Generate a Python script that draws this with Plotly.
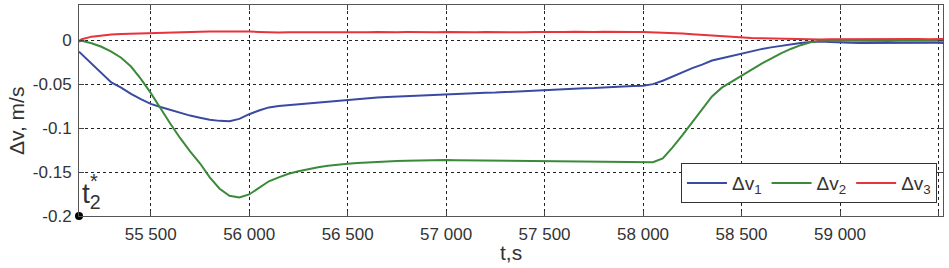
import plotly.graph_objects as go

# ---------------- data ----------------
T = [55136, 55150, 55200, 55250, 55300, 55350, 55400, 55450, 55500, 55550,
     55600, 55650, 55700, 55750, 55800, 55850, 55900, 55950, 56000, 56050,
     56100, 56150, 56200, 56250, 56300, 56350, 56400, 56450, 56500, 56550,
     56600, 56650, 56700, 56750, 56800, 56850, 56900, 56950, 57000, 57050,
     57100, 57150, 57200, 57250, 57300, 57350, 57400, 57450, 57500, 57550,
     57600, 57650, 57700, 57750, 57800, 57850, 57900, 57950, 58000, 58050,
     58100, 58150, 58200, 58250, 58300, 58350, 58400, 58450, 58500, 58550,
     58600, 58650, 58700, 58750, 58800, 58850, 58900, 58950, 59000, 59050,
     59100, 59150, 59200, 59250, 59300, 59350, 59400, 59450, 59500, 59523]

DV1 = [-0.0130, -0.0160, -0.0270, -0.0380, -0.0480, -0.0540, -0.0610, -0.0670, -0.0725, -0.0760,
       -0.0795, -0.0828, -0.0858, -0.0882, -0.0905, -0.0918, -0.0922, -0.0895, -0.0842, -0.0800,
       -0.0765, -0.0748, -0.0738, -0.0728, -0.0718, -0.0712, -0.0702, -0.0695, -0.0678, -0.0672,
       -0.0665, -0.0652, -0.0647, -0.0642, -0.0632, -0.0628, -0.0624, -0.0618, -0.0612, -0.0608,
       -0.0610, -0.0602, -0.0598, -0.0596, -0.0590, -0.0586, -0.0580, -0.0575, -0.0565, -0.0562,
       -0.0558, -0.0553, -0.0548, -0.0545, -0.0538, -0.0530, -0.0528, -0.0522, -0.0518, -0.0500,
       -0.0462, -0.0412, -0.0362, -0.0318, -0.0278, -0.0232, -0.0205, -0.0178, -0.0152, -0.0125,
       -0.0102, -0.0082, -0.0063, -0.0046, -0.0032, -0.0020, -0.0015, -0.0022, -0.0028, -0.0030,
       -0.0031, -0.0030, -0.0031, -0.0030, -0.0032, -0.0031, -0.0030, -0.0031, -0.0030, -0.0031]

DV2 = [-0.0015, -0.0008, -0.0035, -0.0075, -0.0130, -0.0200, -0.0300, -0.0440, -0.0600, -0.0780,
       -0.0950, -0.1115, -0.1265, -0.1400, -0.1560, -0.1690, -0.1770, -0.1790, -0.1755, -0.1680,
       -0.1605, -0.1560, -0.1520, -0.1490, -0.1465, -0.1445, -0.1428, -0.1415, -0.1405, -0.1398,
       -0.1390, -0.1385, -0.1378, -0.1374, -0.1372, -0.1368, -0.1366, -0.1364, -0.1362, -0.1365,
       -0.1366, -0.1368, -0.1366, -0.1370, -0.1372, -0.1370, -0.1374, -0.1376, -0.1374, -0.1378,
       -0.1380, -0.1378, -0.1382, -0.1384, -0.1382, -0.1386, -0.1385, -0.1387, -0.1388, -0.1388,
       -0.1345, -0.1220, -0.1080, -0.0930, -0.0785, -0.0640, -0.0540, -0.0470, -0.0410, -0.0340,
       -0.0270, -0.0210, -0.0150, -0.0100, -0.0057, -0.0025, -0.0008, -0.0004, -0.0006, -0.0008,
       -0.0007, -0.0008, -0.0007, -0.0009, -0.0008, -0.0007, -0.0008, -0.0009, -0.0008, -0.0008]

DV3 = [-0.0010, 0.0010, 0.0040, 0.0055, 0.0064, 0.0070, 0.0074, 0.0080, 0.0085, 0.0088,
       0.0090, 0.0092, 0.0095, 0.0097, 0.0098, 0.0100, 0.0099, 0.0102, 0.0098, 0.0094,
       0.0090, 0.0088, 0.0091, 0.0090, 0.0092, 0.0089, 0.0091, 0.0093, 0.0088, 0.0092,
       0.0090, 0.0093, 0.0089, 0.0091, 0.0092, 0.0090, 0.0093, 0.0091, 0.0094, 0.0090,
       0.0092, 0.0089, 0.0093, 0.0091, 0.0090, 0.0092, 0.0089, 0.0093, 0.0091, 0.0090,
       0.0093, 0.0095, 0.0092, 0.0094, 0.0096, 0.0093, 0.0095, 0.0094, 0.0094, 0.0091,
       0.0088, 0.0082, 0.0075, 0.0066, 0.0058, 0.0050, 0.0043, 0.0036, 0.0030, 0.0026,
       0.0022, 0.0019, 0.0016, 0.0013, 0.0011, 0.0010, 0.0009, 0.0010, 0.0011, 0.0012,
       0.0011, 0.0012, 0.0013, 0.0011, 0.0012, 0.0013, 0.0012, 0.0011, 0.0012, 0.0012]

SERIES_NAMES = ["Δv<sub>1</sub>", "Δv<sub>2</sub>", "Δv<sub>3</sub>"]
SERIES_COLORS = ["#3a4aa2", "#3b8a3b", "#e8323c"]

X_TICKS = [55500, 56000, 56500, 57000, 57500, 58000, 58500, 59000, 59500]
X_TICK_LABELS = ["55 500", "56 000", "56 500", "57 000", "57 500", "58 000", "58 500", "59 000", ""]
Y_TICKS = [-0.2, -0.15, -0.1, -0.05, 0]
Y_TICK_LABELS = ["-0.2", "-0.15", "-0.1", "-0.05", "0"]

T2_STAR = 55136
V_MIN = -0.2

FONT = "Liberation Sans, Arial, sans-serif"
TXT = "#333333"

fig = go.Figure()
for vals, name, col in zip([DV1, DV2, DV3], SERIES_NAMES, SERIES_COLORS):
    fig.add_trace(go.Scatter(x=T, y=vals, mode="lines", name=name,
                             line=dict(color=col, width=2)))

fig.add_trace(go.Scatter(x=[T2_STAR], y=[V_MIN], mode="markers",
                         marker=dict(color="black", size=8),
                         showlegend=False, cliponaxis=False))

axis_common = dict(showline=True, linecolor="#555555", linewidth=1, mirror="ticks",
                   ticks="inside", ticklen=5, tickcolor="#444444",
                   showgrid=True, gridcolor="#222222", gridwidth=1, griddash="dot",
                   zeroline=False, tickfont=dict(family=FONT, size=17, color=TXT))

fig.update_layout(
    width=949, height=268,
    margin=dict(l=79, r=6, t=5, b=52, autoexpand=False),
    paper_bgcolor="white", plot_bgcolor="white",
    xaxis=dict(range=[55136, 59523], tickvals=X_TICKS, ticktext=X_TICK_LABELS,
               ticklabelstandoff=3, automargin=False, **axis_common),
    yaxis=dict(range=[-0.2, 0.04], tickvals=Y_TICKS, ticktext=Y_TICK_LABELS,
               ticklabelstandoff=3, automargin=False, **axis_common),
    legend=dict(orientation="h", x=0.993, y=0.251, xanchor="right", yanchor="top",
                bordercolor="#333333", borderwidth=1, bgcolor="white",
                font=dict(family=FONT, size=19, color=TXT),
                itemwidth=40, tracegroupgap=0),
    showlegend=True,
)

fig.add_annotation(text="Δv, m/s", xref="paper", yref="paper", x=0, y=0.45,
                   xshift=-63, textangle=-90, showarrow=False,
                   font=dict(family=FONT, size=21, color=TXT),
                   xanchor="center", yanchor="middle")
fig.add_annotation(text="t,s", xref="paper", yref="paper", x=0.5, y=0,
                   yshift=-36, showarrow=False,
                   font=dict(family=FONT, size=21, color=TXT),
                   xanchor="center", yanchor="middle")
fig.add_annotation(text="t<sub>2</sub>", xref="paper", yref="paper", x=0, y=0,
                   xshift=1, yshift=1, showarrow=False,
                   font=dict(family=FONT, size=28, color=TXT),
                   xanchor="left", yanchor="bottom")
fig.add_annotation(text="*", xref="paper", yref="paper", x=0, y=0,
                   xshift=9, yshift=22, showarrow=False,
                   font=dict(family=FONT, size=20, color=TXT),
                   xanchor="left", yanchor="bottom")

fig.write_html("out.html",
               config={"displayModeBar": False},
               post_script="document.body.style.margin='0';document.body.style.padding='0';")
